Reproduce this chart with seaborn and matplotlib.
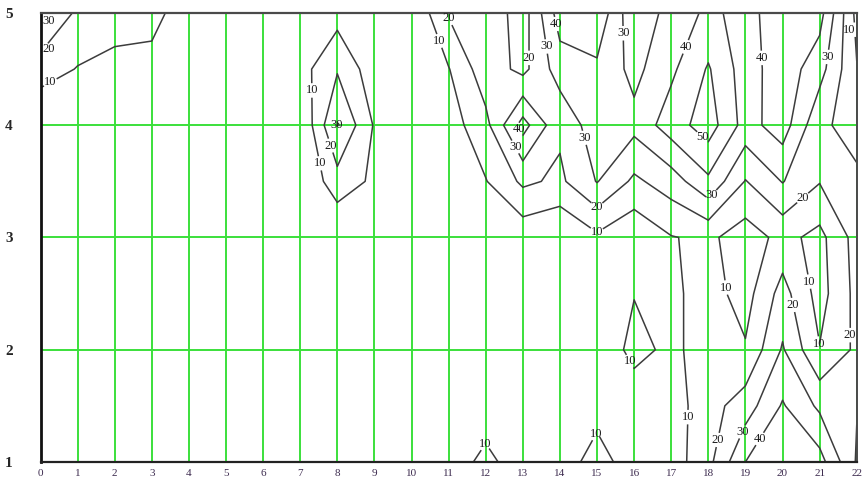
import numpy as np
import matplotlib
matplotlib.use("Agg")
import matplotlib.pyplot as plt
import seaborn as sns

# Grid coordinates of the measured field
x_vals = list(range(23))                       # stations 0 .. 22
y_vals = [1.0, 1.5, 2.0, 2.5, 3.0, 3.5, 4.0, 4.5, 5.0]
levels = [10, 20, 30, 40, 50]

# Field values, one list per row (x = 0 .. 22)
row_y10 = [0, 0, 0, 0, 0, 0, 0, 0, 0, 0, 0, 0, 15, 0, 0, 18, 0, 5, 17, 40, 42, 44, 19]
row_y15 = [0, 0, 0, 0, 0, 0, 0, 0, 0, 0, 0, 0, 0, 0, 0, 3, 2, 5, 16, 25, 41, 28, 20.5]
row_y20 = [0, 0, 0, 0, 0, 0, 0, 0, 0, 0, 0, 0, 0, 0, 0, 0, 14, 7, 16, 11, 31, 10.5, 22]
row_y25 = [0, 0, 0, 0, 0, 0, 0, 0, 0, 0, 0, 0, 0, 0, 0, 0, 9.5, 8, 14, 6, 24, 6, 23]
row_y30 = [0, 0, 0, 0, 0, 0, 0, 0, 0, 0, 0, 0, 0, 3, 0, 8, 2, 9.5, 12, 5, 13, 7, 24]
row_y35 = [0, 0, 0, 0, 0, 0, 0, 0, 16, 8, 0, 0, 9.5, 22, 18, 30.5, 18, 25, 38, 19.5, 30.5, 20.5, 22]
row_y40 = [0, 0, 0, 0, 0, 0, 0, 0, 31, 9, 0, 5, 17, 44, 22, 36, 33, 45, 55, 36, 45, 22, 16]
row_y45 = [15, 9.5, 6, 6, 0, 0, 0, 6, 19, 4, 0, 9.5, 26, 17, 35, 38, 27, 38, 51, 35, 46, 34, 10.5]
row_y50 = [32, 18, 16, 14, 3, 0, 0, 0, 6, 0, 0, 21, 27, 15, 45, 48, 22, 34, 42, 37, 45, 44, 7]

Z = np.array([row_y10, row_y15, row_y20, row_y25, row_y30,
              row_y35, row_y40, row_y45, row_y50], dtype=float)
X, Y = np.meshgrid(x_vals, y_vals)

# where each level's labels sit (data coordinates)
label_spots = {
    10: [(0.3, 4.36), (7.35, 4.31), (7.67, 3.67), (10.74, 4.75), (15.0, 3.05),
         (18.6, 2.56), (20.6, 2.6), (21.0, 1.97), (15.9, 1.9), (17.4, 1.4),
         (11.8, 1.2), (14.7, 1.3), (21.9, 4.85)],
    20: [(0.15, 4.66), (7.83, 3.82), (11.0, 4.95), (13.2, 4.6), (15.0, 3.27),
         (20.55, 3.35), (20.3, 2.4), (21.87, 2.13), (18.2, 1.2)],
    30: [(0.1, 4.95), (7.97, 4.0), (13.6, 4.7), (12.76, 3.8), (15.8, 4.82),
         (14.8, 3.9), (18.0, 3.4), (21.4, 4.6), (18.7, 1.3)],
    40: [(13.87, 4.9), (12.98, 3.98), (17.3, 4.71), (19.45, 4.6), (19.9, 1.1)],
    50: [(17.85, 3.9)],
}

sns.set_theme(style="white")
plt.rcParams["font.family"] = ["Liberation Serif", "DejaVu Serif"]

fig = plt.figure(figsize=(8.64, 4.86), dpi=100)
ax = fig.add_axes([0.0469, 0.0494, 0.9447, 0.9239])

# green reference grid
for xv in x_vals:
    ax.axvline(xv, color="#3be03b", lw=1.4, zorder=1)
for yv in [1, 2, 3, 4, 5]:
    ax.axhline(yv, color="#3be03b", lw=1.4, zorder=1)

for lv in levels:
    cs = ax.contour(X, Y, Z, levels=[lv], colors="#3c3c3c", linewidths=1.1, zorder=3)
    texts = ax.clabel(cs, fmt="%d", fontsize=9, inline=True, inline_spacing=1,
                      colors="#1a1a1a", manual=label_spots[lv])
    for t in texts:
        t.set_rotation(0)
        # keep labels that sit on the frame edge fully inside the plot
        tx, ty = t.get_position()
        if tx < 0.22:
            t.set_position((0.22, min(ty, 4.93)))
        elif tx > 21.8:
            t.set_position((21.8, min(ty, 4.88)))

ax.set_xlim(0, 22)
ax.set_ylim(1, 5)
ax.set_xticks(x_vals)
ax.set_xticklabels([str(v) for v in x_vals])
ax.set_yticks([1, 2, 3, 4, 5])
ax.set_yticklabels(["1", "2", "3", "4", "5"])

ax.tick_params(axis="x", direction="out", length=4, width=1, color="#222222",
               labelsize=8, labelcolor="#3d2b4f", pad=1)
ax.tick_params(axis="y", direction="out", length=2, width=1, color="#222222",
               labelsize=11, pad=18)
for lab in ax.get_yticklabels():
    lab.set_fontweight("bold")

ax.spines["left"].set_color("#111111")
ax.spines["left"].set_linewidth(2.0)
ax.spines["bottom"].set_color("#222222")
ax.spines["bottom"].set_linewidth(1.6)
ax.spines["top"].set_color("#4a4a4a")
ax.spines["top"].set_linewidth(1.6)
ax.spines["right"].set_color("#4a4a4a")
ax.spines["right"].set_linewidth(1.4)
for s in ax.spines.values():
    s.set_zorder(4)

fig.savefig("out.png", dpi=100)
